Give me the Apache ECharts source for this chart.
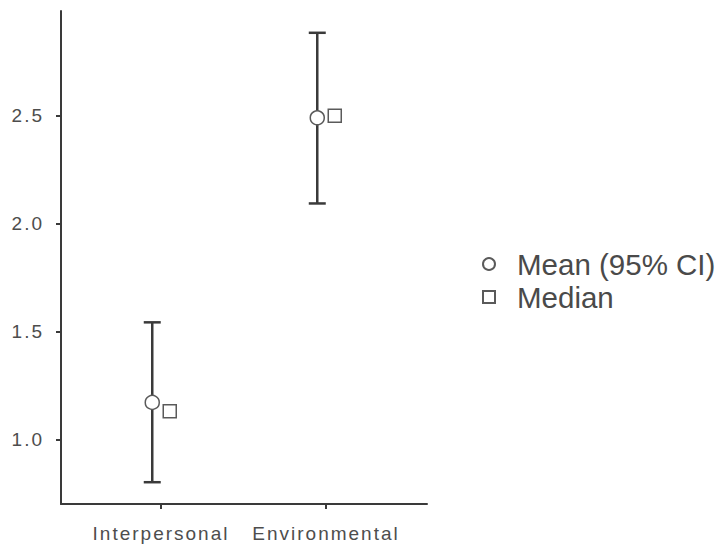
<!DOCTYPE html>
<html>
<head>
<meta charset="utf-8">
<script src="https://cdn.jsdelivr.net/npm/echarts@6/dist/echarts.min.js"></script>
<style>
html,body{margin:0;padding:0;background:#fff}
#c{width:717px;height:546px}
#c text[style*="19px"], #c text[font-size="19"], #c text[font-size="19px"]{letter-spacing:2px}
</style>
</head>
<body>
<div id="c"></div>
<script>
var categories = ['Interpersonal', 'Environmental'];
var meanValues = [1.171, 2.49];
var ciLower = [0.801, 2.093];
var ciUpper = [1.542, 2.884];
var medianValues = [1.13, 2.5];
var yTicks = [1.0, 1.5, 2.0, 2.5];

var dodge = 0.053;
var catPos = categories.map(function (c, i) { return i + 1; });

var chart = echarts.init(document.getElementById('c'), null, { renderer: 'svg' });
var axisColor = '#3a3a3a';
var textColor = '#4d4d4d';
chart.setOption({
  animation: false,
  backgroundColor: '#fff',
  grid: { left: 61, right: 290, top: 11, bottom: 42, containLabel: false },
  xAxis: {
    type: 'value', min: 0.394, max: 2.612,
    axisLine: { show: true, onZero: false, lineStyle: { color: axisColor, width: 2 } },
    axisTick: { show: true, customValues: catPos, length: 5, lineStyle: { color: axisColor, width: 2 } },
    axisLabel: { customValues: catPos, margin: 20, color: textColor, fontSize: 19, fontFamily: 'Liberation Sans',
      formatter: function (v) { return categories[Math.round(v) - 1] || ''; } },
    splitLine: { show: false }
  },
  yAxis: {
    type: 'value', min: 0.7, max: 2.985,
    axisLine: { show: true, onZero: false, lineStyle: { color: axisColor, width: 2 } },
    axisTick: { show: true, customValues: yTicks, length: 5, lineStyle: { color: axisColor, width: 2 } },
    axisLabel: { customValues: yTicks, margin: 17, color: textColor, fontSize: 19, fontFamily: 'Liberation Sans',
      formatter: function (v) { return v.toFixed(1); } },
    splitLine: { show: false }
  },
  legend: {
    orient: 'vertical', left: 477, top: 244, itemGap: 3, itemWidth: 12, itemHeight: 12,
    textStyle: { fontSize: 29.5, color: '#4a4a4a', fontFamily: 'Liberation Sans', padding: [0, 0, 0, 17] },
    data: [{ name: 'Mean (95% CI)', icon: 'circle' }, { name: 'Median', icon: 'rect' }]
  },
  series: [
    {
      type: 'custom', name: 'ci', silent: true, z: 1,
      data: categories.map(function (c, i) { return [catPos[i] - dodge, ciLower[i], ciUpper[i]]; }),
      renderItem: function (params, api) {
        var lo = api.coord([api.value(0), api.value(1)]);
        var hi = api.coord([api.value(0), api.value(2)]);
        var hw = 8.5;
        var st = { stroke: '#3a3a3a', lineWidth: 2.5 };
        return { type: 'group', children: [
          { type: 'line', shape: { x1: lo[0], y1: lo[1], x2: hi[0], y2: hi[1] }, style: st },
          { type: 'line', shape: { x1: lo[0] - hw, y1: lo[1], x2: lo[0] + hw, y2: lo[1] }, style: st },
          { type: 'line', shape: { x1: hi[0] - hw, y1: hi[1], x2: hi[0] + hw, y2: hi[1] }, style: st }
        ]};
      }
    },
    {
      type: 'scatter', name: 'Mean (95% CI)', symbol: 'circle', symbolSize: 14, z: 3,
      itemStyle: { color: '#fff', borderColor: '#5a5a5a', borderWidth: 1.5, opacity: 1 },
      data: categories.map(function (c, i) { return [catPos[i] - dodge, meanValues[i]]; })
    },
    {
      type: 'scatter', name: 'Median', symbol: 'rect', symbolSize: 13, z: 3,
      itemStyle: { color: '#fff', borderColor: '#5a5a5a', borderWidth: 1.5, opacity: 1 },
      data: categories.map(function (c, i) { return [catPos[i] + dodge, medianValues[i]]; })
    }
  ]
});
</script>
</body>
</html>
